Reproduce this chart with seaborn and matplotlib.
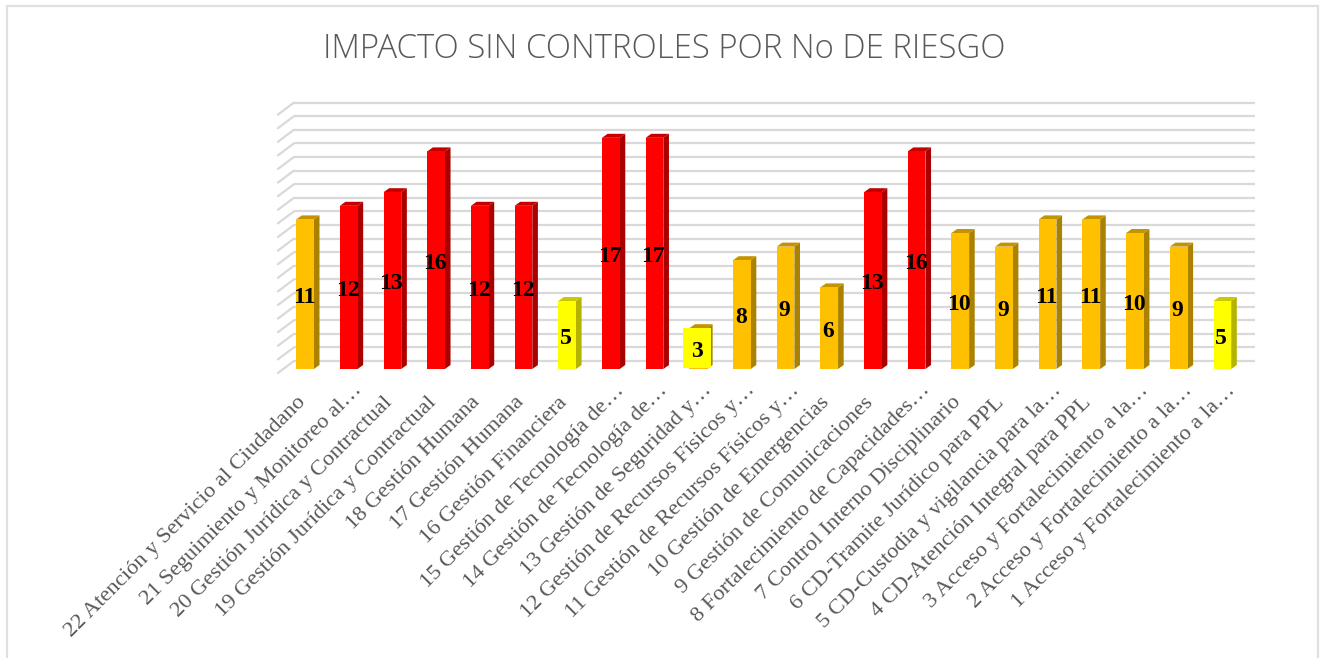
import matplotlib
matplotlib.use("Agg")
import matplotlib.pyplot as plt
from matplotlib.patches import Rectangle
from matplotlib.transforms import Affine2D, IdentityTransform
import pandas as pd
import seaborn as sns

TITLE = "IMPACTO SIN CONTROLES POR No DE RIESGO"
categories = [
    "22 Atención y Servicio al Ciudadano",
    "21 Seguimiento y Monitoreo al…",
    "20 Gestión Jurídica y Contractual",
    "19 Gestión Jurídica y Contractual",
    "18 Gestión Humana",
    "17 Gestión Humana",
    "16 Gestión Financiera",
    "15 Gestión de Tecnología de…",
    "14 Gestión de Tecnología de…",
    "13 Gestión de Seguridad y…",
    "12 Gestión de Recursos Físicos y…",
    "11 Gestión de Recursos Físicos y…",
    "10 Gestión de Emergencias",
    "9 Gestión de Comunicaciones",
    "8 Fortalecimiento de Capacidades…",
    "7 Control Interno Disciplinario",
    "6 CD-Tramite Jurídico para PPL",
    "5 CD-Custodia y vigilancia para la…",
    "4 CD-Atención Integral para PPL",
    "3 Acceso y Fortalecimiento a la…",
    "2 Acceso y Fortalecimiento a la…",
    "1 Acceso y Fortalecimiento a la…",
]
values = [11, 12, 13, 16, 12, 12, 5, 17, 17, 3, 8, 9, 6, 13, 16, 10, 9, 11, 11, 10, 9, 5]
levels = ["media", "alta", "alta", "alta", "alta", "alta", "baja", "alta", "alta", "media", "media",
          "media", "media", "alta", "alta", "media", "media", "media", "media", "media", "media", "baja"]
highlighted = ["13 Gestión de Seguridad y…"]
front_colors = {"alta": "#FF0000", "media": "#FFC000", "baja": "#FFFF00"}
side_colors = {"alta": "#AB0000", "media": "#AB8100", "baja": "#B3B300"}
top_colors = {"alta": "#C40000", "media": "#C49300", "baja": "#C9C900"}
y_max = 19

W, H = 1321, 658
sns.set_theme(style="white")
plt.rcParams["font.family"] = ["Liberation Serif", "DejaVu Sans"]
fig = plt.figure(figsize=(W / 100, H / 100), dpi=100, facecolor="white")

fig.add_artist(Rectangle((7 / W, -0.01), (1318 - 7) / W, 1 - 6 / H + 0.01, transform=fig.transFigure,
                         fill=False, edgecolor="#E0E0E0", linewidth=1.6))

# axes plane = plane of the bars' front faces
L, R, B, T = 283.2, 1244.2, 369.0, 369.0 - 13.6 * y_max
ax = fig.add_axes([L / W, 1 - B / H, (R - L) / W, (B - T) / H])
df = pd.DataFrame({"cat": categories, "val": values, "lvl": levels})
sns.barplot(data=df, x="cat", y="val", hue="lvl", palette=front_colors, dodge=False, width=0.405,
            legend=False, ax=ax, zorder=3, saturation=1, order=categories)
ax.set_xlim(-0.5, len(categories) - 0.5)
ax.set_ylim(0, y_max)
ax.set_facecolor("none")
for s in ax.spines.values():
    s.set_visible(False)
ax.set_xlabel("")
ax.set_ylabel("")
ax.set_yticks([])

# pseudo-3D: depth of the bars and of the floor, in display pixels
back = ax.transData + Affine2D().translate(10.7, 8)
front = ax.transData + Affine2D().translate(-5.3, -4)
for lev in range(y_max + 1):
    ax.plot([-0.5, len(categories) - 0.5], [lev, lev], color="#D9D9D9", lw=1.6, transform=back,
            clip_on=False, zorder=1, solid_capstyle="butt")
    x0, y0 = back.transform((-0.5, lev))
    x1, y1 = front.transform((-0.5, lev))
    ax.plot([x0, x1], [y0, y1], color="#D9D9D9", lw=1.6, transform=IdentityTransform(), clip_on=False,
            zorder=1)

ux = (R - L) / len(categories)
uy = (B - T) / y_max
dx, dy = 5.6 / ux, 4.0 / uy
label_tf = ax.transData + Affine2D().translate(-1, -3)
for cont in ax.containers:
    for bar in cont:
        h = bar.get_height()
        if not h:
            continue
        x0, x1 = bar.get_x(), bar.get_x() + bar.get_width()
        idx = int(round((x0 + x1) / 2))
        lvl = levels[idx]
        bar.set_linewidth(0)
        ax.fill([x1, x1, x1 + dx, x1 + dx], [0, h, h + dy, dy], color=side_colors[lvl], lw=0,
                clip_on=False, zorder=2.9)
        ax.fill([x0, x1, x1 + dx, x0 + dx], [h, h, h + dy, h + dy], color=top_colors[lvl], lw=0,
                clip_on=False, zorder=2.9)
        bar.set_clip_on(False)
        if categories[idx] in highlighted:
            # yellow marker box painted over this bar's front, hiding its side face
            ax.add_patch(Rectangle((x0 - 6 / ux, 0.07), x1 - x0 + 28 / ux - bar.get_width(), h - 0.07,
                                   facecolor="#FFFF00", edgecolor="none", zorder=4, clip_on=False))
        ax.text((x0 + x1) / 2, h / 2, f"{int(h)}", ha="center", va="center", fontsize=17,
                fontweight="bold", color="black", zorder=5, clip_on=False, transform=label_tf)

ax.tick_params(axis="x", length=0, pad=0)
ax.set_xticks(range(len(categories)))
ax.set_xticklabels(categories, rotation=45, ha="right", va="top", rotation_mode="anchor",
                   fontsize=16.2, color="#595959")
for lab in ax.get_xticklabels():
    shift = (4, -12) if lab.get_text().endswith("…") else (-9, -24)
    lab.set_transform(lab.get_transform() + Affine2D().translate(*shift))

fig.text(664 / W, 1 - 49 / H, TITLE, ha="center", va="center", fontsize=23.7, color="#595959",
         family=["Open Sans", "DejaVu Sans"], fontweight="light")

fig.savefig("out.png", dpi=100, facecolor="white")
